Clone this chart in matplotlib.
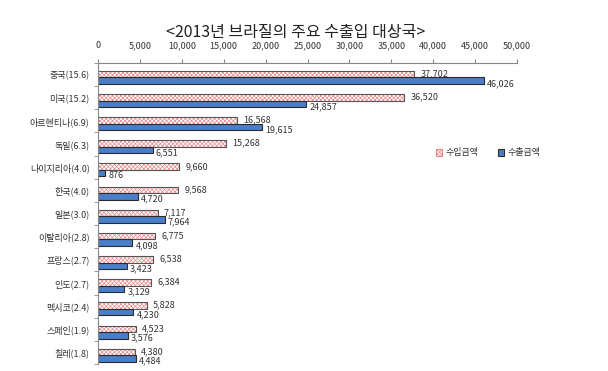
import matplotlib
matplotlib.use("Agg")
import matplotlib.pyplot as plt
import matplotlib.patches as mpatches
import numpy as np

plt.rcParams['font.family'] = ['Noto Sans CJK KR', 'DejaVu Sans']

title = "<2013년 브라질의 주요 수출입 대상국>"
countries = ["중국(15.6)", "미국(15.2)", "아르헨티나(6.9)", "독일(6.3)", "나이지리아(4.0)",
             "한국(4.0)", "일본(3.0)", "이탈리아(2.8)", "프랑스(2.7)", "인도(2.7)",
             "멕시코(2.4)", "스페인(1.9)", "칠레(1.8)"]
imports = [37702, 36520, 16568, 15268, 9660, 9568, 7117, 6775, 6538, 6384, 5828, 4523, 4380]
exports = [46026, 24857, 19615, 6551, 876, 4720, 7964, 4098, 3423, 3129, 4230, 3576, 4484]
series_names = ["수입금액", "수출금액"]
xticks = list(range(0, 50001, 5000))

fig = plt.figure(figsize=(6.08, 3.71), dpi=100)
ax = fig.add_axes([98/608, 1-364/371, (517-98)/608, (364-63)/371])

y = np.arange(len(countries))
h = 0.28
shift = 0.12
y_imp = y + shift - h/2
y_exp = y + shift + h/2

hatch_col = '#E88888'
edge_col = '#2b2b2b'
blue = '#4A7EC9'

plt.rcParams['hatch.linewidth'] = 0.5
ax.barh(y_imp, imports, height=h, color='white', edgecolor=hatch_col, hatch='xxxxxxxx', linewidth=0)
ax.barh(y_imp, imports, height=h, fill=False, edgecolor='#555555', linewidth=0.8)
ax.barh(y_exp, exports, height=h, color=blue, edgecolor=edge_col, linewidth=0.8)

txt_col = '#333333'
fs = 6.5
for yi, v in zip(y_imp, imports):
    ax.annotate(f"{v:,}", (v, yi), xytext=(4.5, 0.3), textcoords='offset points',
                va='center', ha='left', fontsize=fs, color=txt_col)
for yi, v in zip(y_exp, exports):
    ax.annotate(f"{v:,}", (v, yi), xytext=(2.2, -2.0), textcoords='offset points',
                va='center', ha='left', fontsize=fs, color=txt_col)

ax.set_xlim(0, 50000)
ax.set_ylim(len(countries) - 0.5, -0.5)
ax.xaxis.tick_top()
ax.set_xticks(xticks)
ax.set_xticklabels([f"{t:,}" for t in xticks], fontsize=fs, color=txt_col)
ax.tick_params(axis='x', direction='out', length=3, color='#888888', pad=6)

ax.set_yticks(y)
ax.set_yticklabels(countries, fontsize=fs, color=txt_col)
ax.set_yticks(np.arange(-0.5, len(countries)), minor=True)
ax.tick_params(axis='y', which='major', length=0, pad=6)
ax.tick_params(axis='y', which='minor', length=3, color='#888888', direction='out')

for s in ['right', 'bottom']:
    ax.spines[s].set_visible(False)
for s in ['top', 'left']:
    ax.spines[s].set_color('#888888')
    ax.spines[s].set_linewidth(0.8)

fig.text(296/608, 1-32/371, title, ha='center', va='center', fontsize=11.5, color='#222222')

h1 = mpatches.Patch(facecolor='white', edgecolor=hatch_col, hatch='xxxxxxxx', linewidth=0.8)
h2 = mpatches.Patch(facecolor=blue, edgecolor=edge_col, linewidth=0.8)
fig.legend([h1, h2], series_names, loc='center left', bbox_to_anchor=(428/608, 1-153/371),
           ncol=2, frameon=False, fontsize=fs, handlelength=0.7, handleheight=0.7,
           handletextpad=0.3, columnspacing=2.2, labelcolor=txt_col)

fig.savefig("out.png", dpi=100)
